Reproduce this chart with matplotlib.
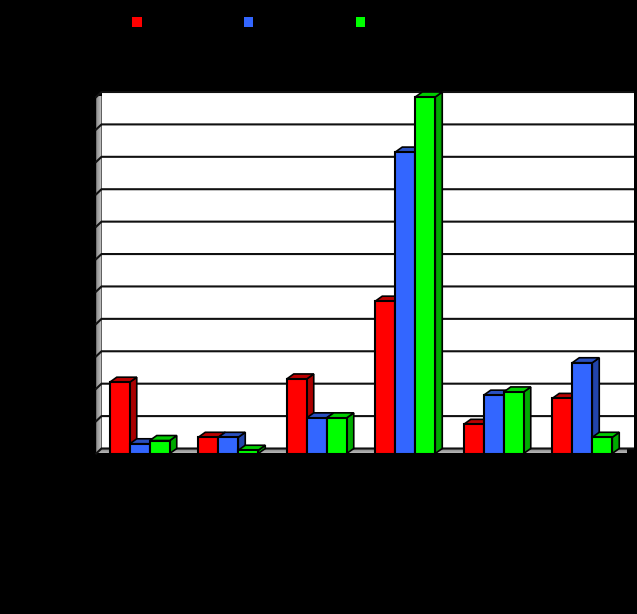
from matplotlib import pyplot as plt
from matplotlib.patches import Polygon, Rectangle
import numpy as np

W, H = 637, 614

# values, y axis runs 0 to 110 in steps of 10
groups = [0, 1, 2, 3, 4, 5]
red_values = [22, 5, 23, 47, 9, 17]
blue_values = [3, 5, 11, 93, 18, 28]
green_values = [4, 1, 11, 110, 19, 5]
y_grid = [0, 10, 20, 30, 40, 50, 60, 70, 80, 90, 100, 110]

series = [
    (red_values, '#ff0000', '#aa0000', '#bb0000'),
    (blue_values, '#3366ff', '#2244aa', '#2a50c0'),
    (green_values, '#00ff00', '#00aa00', '#00cc00'),
]

fig = plt.figure(figsize=(W / 100, H / 100), dpi=100, facecolor='black')

# front plane of the chart in pixels
left, right, top, bottom = 95.5, 626.5, 97.0, 453.5
ax = fig.add_axes([left / W, 1 - bottom / H, (right - left) / W, (bottom - top) / H])
ax.axis('off')

# px to data units along each axis
ux = 6 / (right - left)
uy = 110 / (bottom - top)

# fake 3d depth, 7 px across and 5 px up
dx = 7 * ux
dy = 5 * uy
bar_w = 20 * ux
gap = (1 - 3 * bar_w) / 2

# the walls sit a little tighter than the bars
wall_l = 0.7 * ux
wall_x = 6 * ux
wall_r = 6 + 7 * ux


def gradient_fill(xs, ys, extent, horizontal, lo, hi):
    shades = np.linspace(lo, hi, 32)
    img = shades[None, :] if horizontal else shades[:, None]
    im = ax.imshow(img, cmap='gray', vmin=0, vmax=1, extent=extent, aspect='auto',
                   origin='lower', zorder=1)
    im.set_clip_box(None)
    im.set_clip_path(Polygon(list(zip(xs, ys)), transform=ax.transData, closed=True))


# back wall, side wall, floor
ax.fill([wall_x, wall_r, wall_r, wall_x], [dy, dy, 110 + dy, 110 + dy], color='white',
        lw=0, zorder=1, clip_on=False)
gradient_fill([wall_l, wall_x, wall_x, wall_l], [0, dy, 110 + dy, 110],
              (wall_l, wall_x, 0, 110 + dy), True, 0.55, 0.78)
gradient_fill([wall_l, 6, 6 + 6 * ux, wall_x], [0, 0, dy, dy],
              (0, 6 + dx, 0, dy), False, 0.72, 0.5)

for y in y_grid:
    ax.plot([wall_l, wall_x, 6 + 6.5 * ux], [y, y + dy, y + dy], color='#101010', lw=1.5,
            zorder=2, solid_joinstyle='miter', clip_on=False)

# bars, left to right so each one covers the side of the one before
z = 3
for g in groups:
    for s, (values, front, side, cap) in enumerate(series):
        x0 = g + gap + s * bar_w
        x1 = x0 + bar_w
        v = values[g]
        ax.fill([x1, x1 + dx, x1 + dx, x1], [0, dy, v + dy, v], facecolor=side,
                edgecolor='black', lw=1.2, zorder=z, clip_on=False)
        ax.fill([x0, x1, x1 + dx, x0 + dx], [v, v, v + dy, v + dy], facecolor=cap,
                edgecolor='black', lw=1.2, zorder=z, clip_on=False)
        ax.fill([x0, x1, x1, x0], [0, 0, v, v], facecolor=front,
                edgecolor='black', lw=1.5, zorder=z + 1, clip_on=False)
        z += 2

ax.set_xlim(0, 6)
ax.set_ylim(0, 110)

# legend keys, their labels are black on black in the original
for px, c, w in [(132, '#ff0000', 10), (244, '#3366ff', 9), (356, '#00ff00', 9)]:
    fig.add_artist(Rectangle((px / W, 1 - 27 / H), w / W, 10 / H, color=c,
                             transform=fig.transFigure, lw=0))

plt.savefig('out.png', dpi=100, facecolor='black')
plt.close()
